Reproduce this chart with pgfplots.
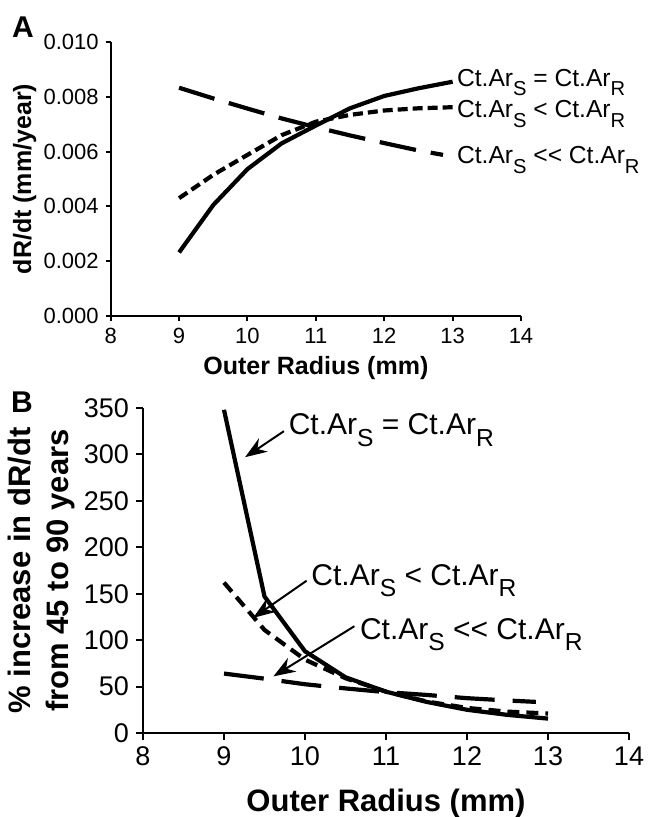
\documentclass[border=0pt]{standalone}
\usepackage{fontspec}
\setmainfont{Liberation Sans}
\usepackage{graphicx}
\usepackage{pgfplots}
\pgfplotsset{compat=1.18}
\usetikzlibrary{arrows.meta}

% 1 px of the reference = 0.5pt
\pgfplotsset{
  panel/.style={
    scale only axis,
    anchor=south west,
    axis lines=left,
    axis line style={-, line width=1pt},
    tick style={line width=1pt, black},
    tick align=outside,
    xmin=8, xmax=14, xtick={8,...,14},
    enlargelimits=false,
    clip=false,
    /pgf/number format/assume math mode=true,
  },
  solidc/.style={black, line width=2.1pt},
}
\newcommand{\sub}[1]{\raisebox{-0.38em}{\scalebox{0.82}{#1}}}
\newcommand{\ct}[1]{Ct.Ar\sub{S} #1 Ct.Ar\sub{R}}

\begin{document}
\begin{tikzpicture}
\useasboundingbox (0,0) rectangle (323.5pt,408.5pt);

\node[font=\bfseries\fontsize{15}{17}\selectfont] at (11.5pt,395pt) {A};
\node[font=\bfseries\fontsize{15}{17}\selectfont] at (11pt,207.5pt) {B};

% ---- panel A
\begin{axis}[panel,
  at={(55.35pt,250.5pt)}, width=205.15pt, height=137pt,
  ymin=0, ymax=0.010, ytick={0,0.002,...,0.010},
  scaled y ticks=false,
  yticklabel style={/pgf/number format/.cd, fixed, fixed zerofill, precision=3},
  major tick length=2.5pt,
  tick label style={font=\fontsize{11}{13}\selectfont},
  xlabel={Outer Radius (mm)},
  ylabel={dR/dt (mm/year)},
  label style={font=\bfseries\fontsize{12.5}{14}\selectfont},
  xlabel style={at={(axis description cs:0.5,0)}, anchor=center, yshift=-26pt},
  ylabel style={at={(axis description cs:0,0.5)}, anchor=center, yshift=43pt},
]
\addplot[solidc] coordinates {
  (9,0.00232) (9.5,0.00405) (10,0.00536) (10.5,0.0063) (11,0.00695)
  (11.5,0.00758) (12,0.00803) (12.5,0.00831) (13,0.00855)};
\addplot[black, line width=2.1pt, dash pattern=on 5pt off 2.5pt] coordinates {
  (9,0.0043) (9.5,0.00515) (10,0.00588) (10.5,0.0066) (11,0.00709)
  (11.5,0.00734) (12,0.0075) (12.5,0.00758) (13,0.00762)};
\addplot[black, line width=2.1pt, dash pattern=on 18.5pt off 7.5pt] coordinates {
  (9,0.00833) (9.5,0.00794) (10,0.00757) (10.5,0.00721) (11,0.00689)
  (11.5,0.00659) (12,0.00631) (12.5,0.00604) (12.86,0.00588)};
\begin{scope}[every node/.style={anchor=west, inner sep=1pt, font=\fontsize{12.3}{14}\selectfont}]
\node at (axis cs:13.03,0.00853) {\ct{=}};
\node at (axis cs:13.03,0.00737) {\ct{<}};
\node at (axis cs:13.03,0.00569) {\ct{<{}<}};
\end{scope}
\end{axis}

% ---- panel B
\begin{axis}[panel,
  at={(71.5pt,42pt)}, width=243pt, height=162.5pt,
  ymin=0, ymax=350, ytick={0,50,...,350},
  major tick length=3.5pt,
  tick label style={font=\fontsize{13.5}{15}\selectfont},
  xlabel={Outer Radius (mm)},
  ylabel={\% increase in dR/dt\\from 45 to 90 years},
  label style={font=\bfseries\fontsize{15.5}{19}\selectfont},
  xlabel style={at={(axis description cs:0.5,0)}, anchor=center, yshift=-35pt},
  ylabel style={at={(axis description cs:0,0.5)}, anchor=center, yshift=51pt, align=center},
]
\addplot[solidc] coordinates {
  (9,348) (9.5,147) (10,88) (10.5,60) (11,44.5)
  (11.5,33.5) (12,25) (12.5,19.5) (13,15.5)};
\addplot[black, line width=2.1pt, dash pattern=on 6pt off 3.5pt] coordinates {
  (9,162) (9.5,111) (10,79) (10.5,59) (11,44.5)
  (11.5,34) (12,27) (12.5,23) (13,21)};
\addplot[black, line width=2.1pt, dash pattern=on 20pt off 9pt] coordinates {
  (9,64) (9.5,58.5) (10,52.5) (10.5,48) (11,44)
  (11.5,41) (12,37.5) (12.5,35) (12.85,33.5)};
\begin{scope}[every node/.style={anchor=west, inner sep=1pt, font=\fontsize{15}{17}\selectfont}]
\node at (axis cs:9.77,326) {\ct{=}};
\node at (axis cs:10.05,164) {\ct{<}};
\node at (axis cs:10.65,106) {\ct{<{}<}};
\end{scope}
\begin{scope}[line width=1pt, -{Stealth[length=11pt, width=8pt]}]
\draw (axis cs:9.74,325) -- (axis cs:9.26,297);
\draw (axis cs:10.02,164) -- (axis cs:9.36,124);
\draw (axis cs:10.61,115) -- (axis cs:9.61,61);
\end{scope}
\end{axis}
\end{tikzpicture}
\end{document}
